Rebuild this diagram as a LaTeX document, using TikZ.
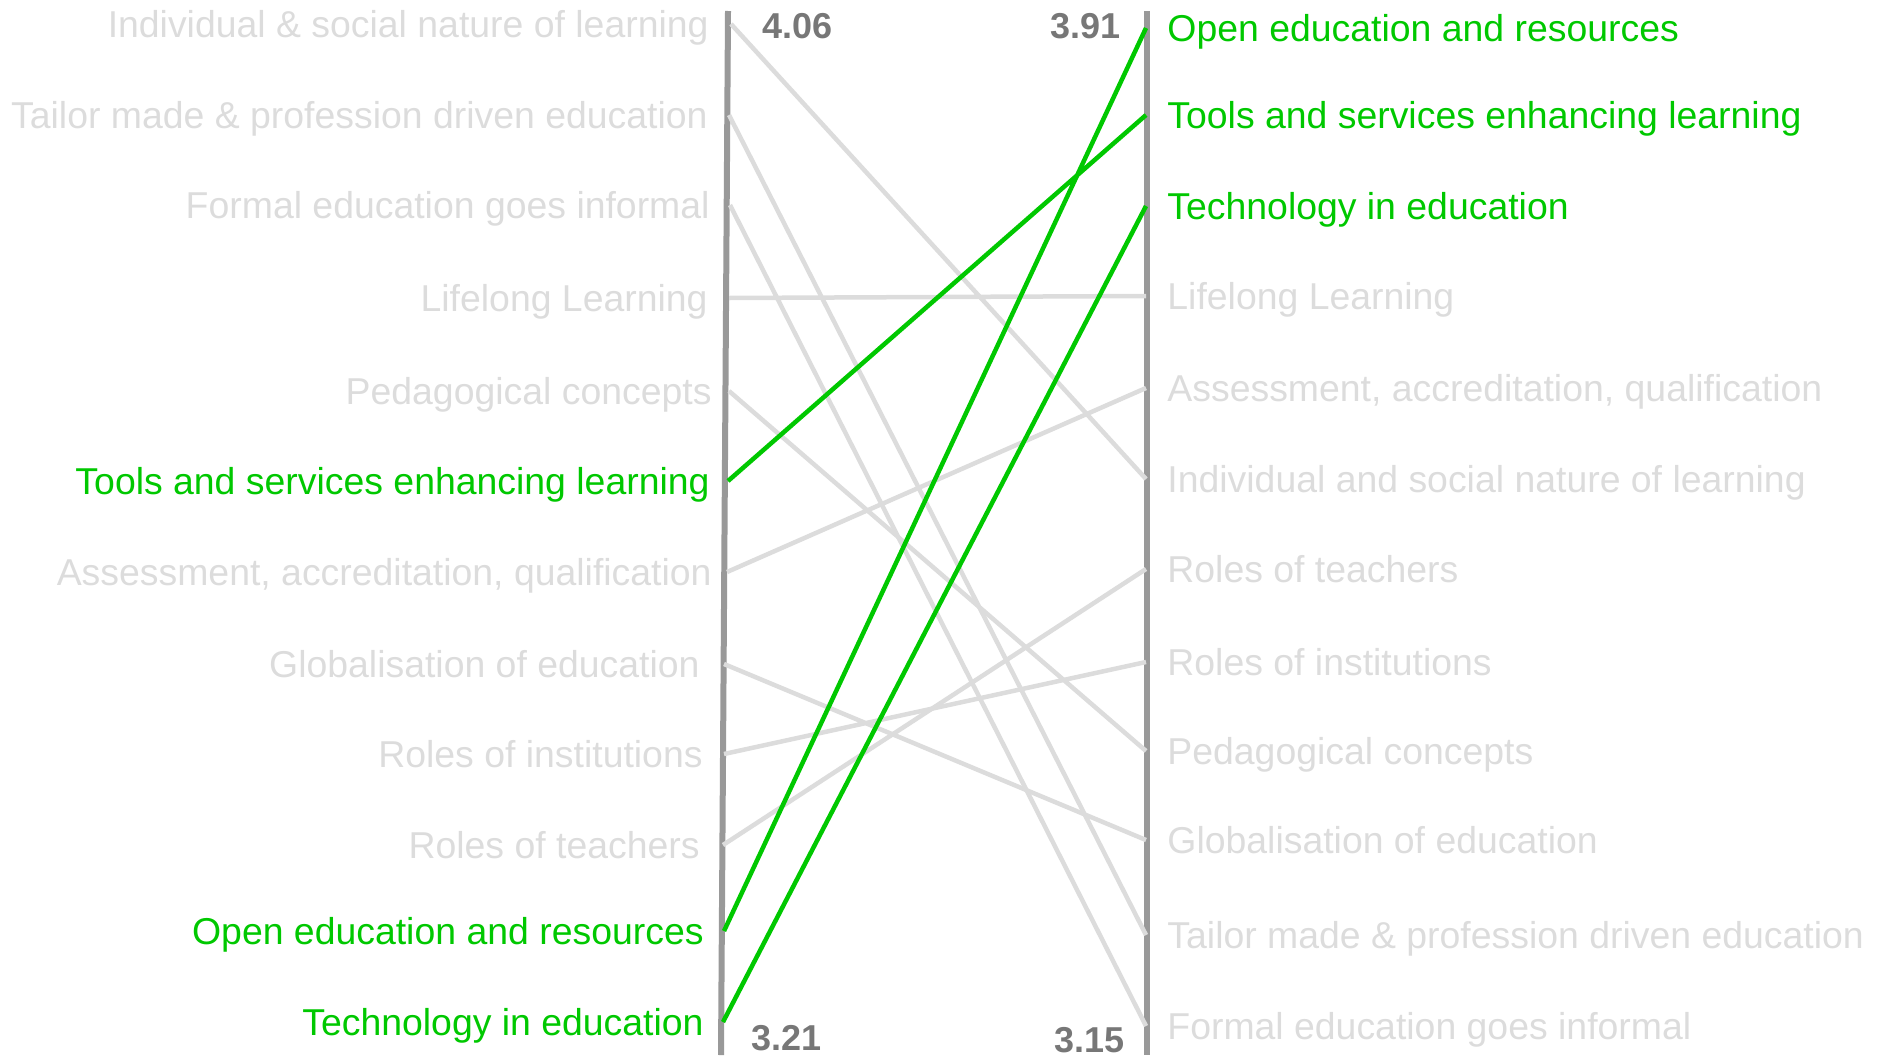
\documentclass[tikz,border=0pt]{standalone}
\usepackage{fontspec}
\setmainfont{Liberation Sans}
\definecolor{axisgrey}{HTML}{999999}
\definecolor{fadegrey}{HTML}{DCDCDC}
\definecolor{scoregrey}{HTML}{777777}
\definecolor{hotgreen}{HTML}{00C800}

\begin{document}
\begin{tikzpicture}[x=1pt,y=-1pt,thick]
    % `item' is a topic name, `hot' a topic that climbs to the top.
    % `link' and `hotlink' join the two rankings, `axis' is a ranking.
    \tikzstyle{item} = [font=\fontsize{37.4}{44}\selectfont,text=fadegrey,inner sep=0pt]
    \tikzstyle{hot} = [item,text=hotgreen]
    \tikzstyle{score} = [font=\fontsize{36}{42}\selectfont\bfseries,text=scoregrey,inner sep=0pt]
    \tikzstyle{axis} = [draw=axisgrey,line width=6pt]
    \tikzstyle{link} = [draw=fadegrey,line width=4.5pt]
    \tikzstyle{hotlink} = [draw=hotgreen,line width=4.5pt]
    %
    \useasboundingbox (0,0) rectangle (1881,1055);
    %
    \coordinate (top0) at (728,11);  \coordinate (bot0) at (721,1055);
    \coordinate (top1) at (1147,11); \coordinate (bot1) at (1147,1055);
    \draw[axis] (top0) -- (bot0);
    \draw[axis] (top1) -- (bot1);
    %
    % left ranking
    \coordinate (l1) at (731,24);   \coordinate (l2) at (729,115);
    \coordinate (l3) at (730,205);  \coordinate (l4) at (729,298);
    \coordinate (l5) at (729,391);  \coordinate (l6) at (728,481);
    \coordinate (l7) at (727,572);  \coordinate (l8) at (724,664);
    \coordinate (l9) at (724,754);  \coordinate (l10) at (723,845);
    \coordinate (l11) at (724,931); \coordinate (l12) at (723,1022);
    %
    \node[item,anchor=base east] (tl1) at (709,37) {Individual \& social nature of learning};
    \node[item,anchor=base east] (tl2) at (708,128) {Tailor made \& profession driven education};
    \node[item,anchor=base east] (tl3) at (710,218) {Formal education goes informal};
    \node[item,anchor=base east] (tl4) at (708,311) {Lifelong Learning};
    \node[item,anchor=base east] (tl5) at (712,404) {Pedagogical concepts};
    \node[hot,anchor=base east] (tl6) at (710,494) {Tools and services enhancing learning};
    \node[item,anchor=base east] (tl7) at (712,585) {Assessment, accreditation, qualification};
    \node[item,anchor=base east] (tl8) at (700,677) {Globalisation of education};
    \node[item,anchor=base east] (tl9) at (703,767) {Roles of institutions};
    \node[item,anchor=base east] (tl10) at (700,858) {Roles of teachers};
    \node[hot,anchor=base east] (tl11) at (704,944) {Open education and resources};
    \node[hot,anchor=base east] (tl12) at (704,1035) {Technology in education};
    %
    % right ranking
    \coordinate (r1) at (1146,28);   \coordinate (r2) at (1146,115);
    \coordinate (r3) at (1146,206);  \coordinate (r4) at (1146,296);
    \coordinate (r5) at (1146,388);  \coordinate (r6) at (1146,479);
    \coordinate (r7) at (1146,569);  \coordinate (r8) at (1146,662);
    \coordinate (r9) at (1146,751);  \coordinate (r10) at (1146,840);
    \coordinate (r11) at (1146,935); \coordinate (r12) at (1146,1026);
    %
    \node[hot,anchor=base west] (tr1) at (1167,41) {Open education and resources};
    \node[hot,anchor=base west] (tr2) at (1167,128) {Tools and services enhancing learning};
    \node[hot,anchor=base west] (tr3) at (1167,219) {Technology in education};
    \node[item,anchor=base west] (tr4) at (1167,309) {Lifelong Learning};
    \node[item,anchor=base west] (tr5) at (1167,401) {Assessment, accreditation, qualification};
    \node[item,anchor=base west] (tr6) at (1167,492) {Individual and social nature of learning};
    \node[item,anchor=base west] (tr7) at (1167,582) {Roles of teachers};
    \node[item,anchor=base west] (tr8) at (1167,675) {Roles of institutions};
    \node[item,anchor=base west] (tr9) at (1167,764) {Pedagogical concepts};
    \node[item,anchor=base west] (tr10) at (1167,853) {Globalisation of education};
    \node[item,anchor=base west] (tr11) at (1167,948) {Tailor made \& profession driven education};
    \node[item,anchor=base west] (tr12) at (1167,1039) {Formal education goes informal};
    %
    % scores at the ends of the axes
    \node[score,anchor=base west] (max0) at (762,38) {4.06};
    \node[score,anchor=base east] (max1) at (1121,38) {3.91};
    \node[score,anchor=base west] (min0) at (751,1050) {3.21};
    \node[score,anchor=base west] (min1) at (1054,1052) {3.15};
    %
    % Draw lines.
    \draw[link] (l1) -- (r6)   (l2) -- (r11)   (l3) -- (r12)   (l4) -- (r4);
    \draw[link] (l5) -- (r9)   (l7) -- (r5)    (l8) -- (r10)   (l9) -- (r8);
    \draw[link] (l10) -- (r7);
    \draw[hotlink] (l6) -- (r2)   (l11) -- (r1)   (l12) -- (r3);
\end{tikzpicture}
\end{document}
